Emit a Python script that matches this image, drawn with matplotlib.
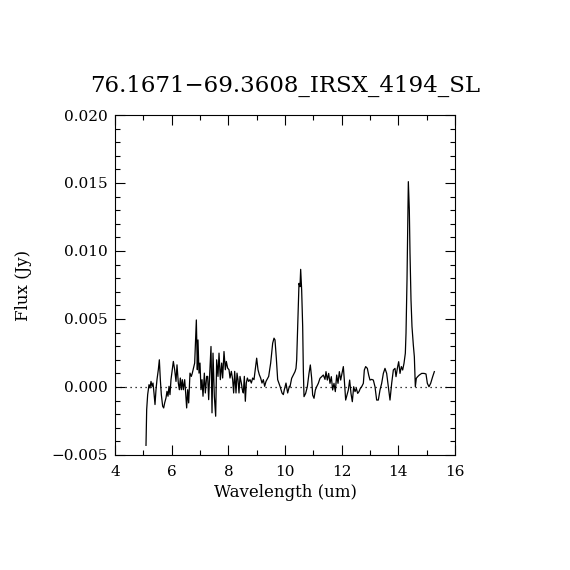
import matplotlib
matplotlib.use("Agg")
import matplotlib.pyplot as plt
from matplotlib.ticker import MultipleLocator, FuncFormatter

plt.rcParams['font.family'] = ['DejaVu Serif']

title = "76.1671\u221269.3608_IRSX_4194_SL"

wavelength = [
    5.094, 5.118, 5.153, 5.200, 5.235, 5.271, 5.306, 5.341, 5.376, 5.412,
    5.447, 5.482, 5.529, 5.565, 5.600, 5.635, 5.682, 5.718, 5.753, 5.800,
    5.835, 5.871, 5.906, 5.941, 5.976, 6.059, 6.106, 6.153, 6.188, 6.235,
    6.271, 6.306, 6.341, 6.376, 6.412, 6.459, 6.494, 6.529, 6.565, 6.600,
    6.647, 6.694, 6.729, 6.812, 6.871, 6.906, 6.929, 6.965, 7.000, 7.035,
    7.071, 7.106, 7.153, 7.188, 7.235, 7.271, 7.306, 7.341, 7.388, 7.424,
    7.459, 7.506, 7.553, 7.588, 7.635, 7.671, 7.718, 7.765, 7.800, 7.847,
    7.894, 7.929, 7.976, 8.024, 8.059, 8.106, 8.153, 8.188, 8.224, 8.271,
    8.306, 8.341, 8.376, 8.412, 8.459, 8.494, 8.529, 8.565, 8.600, 8.635,
    8.671, 8.718, 8.765, 8.812, 8.859, 8.906, 9.000, 9.047, 9.094, 9.141,
    9.188, 9.235, 9.282, 9.329, 9.424, 9.494, 9.565, 9.612, 9.647, 9.694,
    9.741, 9.824, 9.894, 9.941, 9.976, 10.035, 10.094, 10.153,
    10.176, 10.235, 10.294, 10.353, 10.388, 10.412, 10.447, 10.494, 10.529, 10.553,
    10.588, 10.624, 10.647, 10.671, 10.729, 10.788, 10.847, 10.894, 10.941, 10.976,
    11.024, 11.071, 11.118, 11.176, 11.235, 11.294, 11.353, 11.412, 11.447, 11.494,
    11.541, 11.588, 11.635, 11.682, 11.729, 11.776, 11.824, 11.871, 11.918, 11.965,
    12.012, 12.059, 12.094, 12.141, 12.188, 12.235, 12.282, 12.329, 12.376, 12.424,
    12.471, 12.518, 12.565, 12.612, 12.659, 12.706, 12.765, 12.800, 12.847, 12.906,
    12.953, 13.000, 13.059, 13.118, 13.176, 13.235, 13.294, 13.353, 13.412, 13.471,
    13.529, 13.588, 13.647, 13.706, 13.765, 13.824, 13.882, 13.918, 13.965, 14.012,
    14.059, 14.106, 14.153, 14.200, 14.247, 14.271, 14.306, 14.329, 14.353, 14.388,
    14.412, 14.447, 14.482, 14.529, 14.565, 14.600, 14.635, 14.682, 14.741, 14.824,
    14.906, 14.976, 15.024, 15.082, 15.141, 15.212, 15.271,
]

flux = [
    -0.00429, -0.00166, -0.00056, 0.00017, -0.00007, 0.00041, 0.00005, 0.00029, -0.00044, -0.00129,
    -0.00020, 0.00054, 0.00127, 0.00200, 0.00054, -0.00056, -0.00141, -0.00154, -0.00117, -0.00080,
    -0.00032, -0.00068, 0.00005, -0.00056, 0.00054, 0.00188, 0.00127, 0.00041, 0.00163, 0.00029,
    -0.00020, 0.00066, -0.00020, 0.00054, -0.00020, 0.00054, -0.00044, -0.00154, -0.00020, -0.00117,
    0.00102, 0.00078, 0.00102, 0.00176, 0.00493, 0.00127, 0.00346, 0.00102, 0.00176, -0.00020,
    0.00054, -0.00068, 0.00102, -0.00044, 0.00078, 0.00078, -0.00093, 0.00090, 0.00298, -0.00190,
    0.00249, -0.00068, -0.00215, 0.00200, 0.00078, 0.00249, 0.00054, 0.00176, 0.00066, 0.00261,
    0.00127, 0.00188, 0.00139, 0.00127, 0.00066, 0.00115, 0.00054, -0.00044, 0.00115, -0.00044,
    0.00102, 0.00054, -0.00044, 0.00078, 0.00029, -0.00020, -0.00044, 0.00078, -0.00105, 0.00029,
    0.00066, 0.00041, 0.00054, 0.00029, 0.00066, 0.00054, 0.00212, 0.00127, 0.00090, 0.00066,
    0.00029, 0.00054, 0.00005, 0.00041, 0.00078, 0.00176, 0.00322, 0.00359, 0.00346, 0.00212,
    0.00054, 0.00005, -0.00044, -0.00056, -0.00020, 0.00029, -0.00044, 0.00005,
    0.00002, 0.00064, 0.00088, 0.00113, 0.00137, 0.00199, 0.00444, 0.00762, 0.00738, 0.00865,
    0.00713, 0.00444, 0.00125, -0.00071, -0.00047, 0.00002, 0.00100, 0.00162, 0.00064, -0.00059,
    -0.00083, -0.00022, 0.00002, 0.00027, 0.00064, 0.00076, 0.00088, 0.00056, 0.00113, 0.00051,
    0.00100, 0.00027, 0.00076, -0.00022, 0.00027, -0.00034, 0.00088, 0.00027, 0.00113, 0.00051,
    0.00100, 0.00150, 0.00051, -0.00096, -0.00059, -0.00022, 0.00051, -0.00047, -0.00108, 0.00002,
    -0.00034, -0.00010, -0.00047, -0.00034, -0.00010, 0.00002, 0.00027, 0.00125, 0.00150, 0.00137,
    0.00088, 0.00051, 0.00056, 0.00051, 0.00002, -0.00096, -0.00096, -0.00022, 0.00027, 0.00100,
    0.00137, 0.00100, 0.00002, -0.00096, 0.00027, 0.00125, 0.00137, 0.00076, 0.00137, 0.00186,
    0.00100, 0.00150, 0.00125, 0.00174, 0.00248, 0.00395, 0.00787, 0.01130, 0.01510, 0.01301,
    0.00983, 0.00640, 0.00444, 0.00309, 0.00223, 0.00002, 0.00064, 0.00076, 0.00088, 0.00100,
    0.00100, 0.00096, 0.00027, 0.00002, 0.00027, 0.00076, 0.00113,
]


def fmt_flux(v, pos):
    return f"{v:.3f}".replace('-', '\u2212')


fig = plt.figure(figsize=(5.7, 5.7), dpi=100)
ax = fig.add_axes([115 / 570, 115 / 570, 340 / 570, 340 / 570])

ax.plot(wavelength, flux, color='black', lw=0.9)
ax.axhline(0.0, color='black', lw=0.9, ls=(0, (1, 3)))

ax.set_xlim(4, 16)
ax.set_ylim(-0.005, 0.020)

ax.xaxis.set_major_locator(MultipleLocator(2))
ax.xaxis.set_minor_locator(MultipleLocator(1))
ax.yaxis.set_major_locator(MultipleLocator(0.005))
ax.yaxis.set_minor_locator(MultipleLocator(0.001))
ax.yaxis.set_major_formatter(FuncFormatter(fmt_flux))

ax.tick_params(which='both', direction='in', top=True, right=True, width=0.8, labelsize=11)
ax.tick_params(which='major', length=7, pad=5)
ax.tick_params(axis='x', which='major', pad=7)
ax.tick_params(which='minor', length=3.5)
for s in ax.spines.values():
    s.set_linewidth(0.8)

ax.set_xlabel('Wavelength (um)', fontsize=12, labelpad=4)
ax.set_ylabel('Flux (Jy)', fontsize=12, labelpad=14)
ax.set_title(title, fontsize=16.5, pad=17)

fig.savefig('out.png', dpi=100, facecolor='white')
